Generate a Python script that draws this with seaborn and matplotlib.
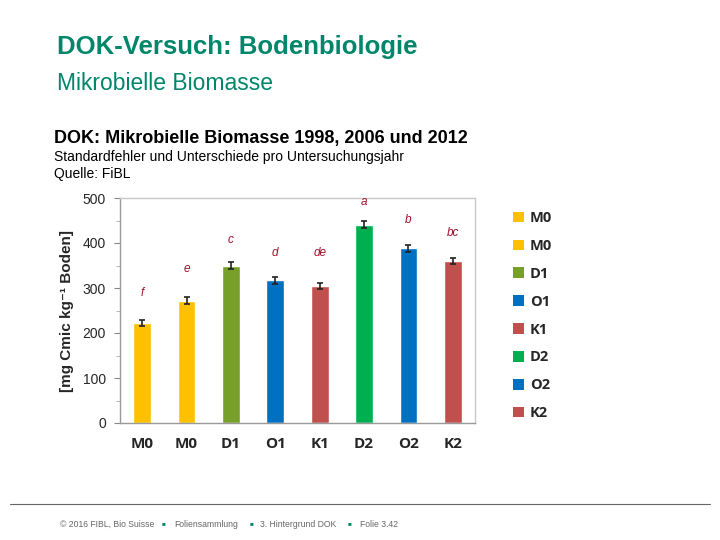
import numpy as np
import pandas as pd
import seaborn as sns
from matplotlib import pyplot as plt
from matplotlib.patches import Patch
from matplotlib.ticker import MultipleLocator
from matplotlib.lines import Line2D

# data
labels = ['M0', 'M0', 'D1', 'O1', 'K1', 'D2', 'O2', 'K2']
values = [222, 272, 350, 317, 305, 441, 388, 360]
errors = [7, 7, 7, 7, 7, 7, 7, 7]
letters = ['f', 'e', 'c', 'd', 'de', 'a', 'b', 'bc']
letter_y = [290, 342, 407, 378, 378, 492, 451, 423]
colors = ['#FFC000', '#FFC000', '#77A02A', '#0070C0', '#C0504D', '#00B050', '#0070C0', '#C0504D']

df = pd.DataFrame({'pos': [str(i) for i in range(len(labels))], 'value': values})

sns.set_style('white')
plt.rcParams['font.family'] = ['Liberation Sans', 'DejaVu Sans']

fig = plt.figure(figsize=(7.2, 5.4), dpi=100)
ax = fig.add_axes([120 / 720, 1 - 423 / 540, 355 / 720, 225 / 540])

sns.barplot(data=df, x='pos', y='value', hue='pos', palette=colors, legend=False,
            width=0.4, saturation=1, ax=ax)
ax.errorbar(np.arange(len(values)), values, yerr=errors, fmt='none', ecolor='#222222',
            elinewidth=1.2, capsize=2.5, capthick=1.2)

for i, (t, y) in enumerate(zip(letters, letter_y)):
    ax.text(i, y, t, ha='center', va='center', fontsize=8.5, style='italic', color='#A0102A')

ax.set_xlim(-0.5, len(labels) - 0.5)
ax.set_ylim(0, 500)
ax.set_xlabel('')
ax.set_ylabel('[mg Cmic kg\u207b\u00b9 Boden]', fontsize=11, fontweight='bold', labelpad=6)
ax.set_xticks(np.arange(len(labels)))
ax.set_xticklabels(labels, fontsize=11, fontweight='bold', family=['Open Sans', 'DejaVu Sans'])
ax.tick_params(axis='x', length=0, pad=10)
ax.set_xticks(np.arange(len(labels) + 1) - 0.5, minor=True)
ax.tick_params(axis='x', which='minor', length=4, color='#888888', direction='out')
ax.yaxis.set_major_locator(MultipleLocator(100))
ax.yaxis.set_minor_locator(MultipleLocator(50))
ax.tick_params(axis='y', which='major', length=4, color='#888888', labelsize=10, left=True,
               direction='out', pad=6)
ax.tick_params(axis='y', which='minor', length=3, color='#aaaaaa', left=True, direction='out')
for s in ['top', 'right']:
    ax.spines[s].set_color('#c8c8c8')
    ax.spines[s].set_linewidth(1)
for s in ['left', 'bottom']:
    ax.spines[s].set_color('#999999')
    ax.spines[s].set_linewidth(1)

handles = [Patch(facecolor=c, edgecolor='none', label=l) for c, l in zip(colors, labels)]
fig.legend(handles=handles, loc='upper left', bbox_to_anchor=(500 / 720, 1 - 198 / 540),
           frameon=False, handlelength=0.75, handleheight=0.75, handletextpad=0.4,
           labelspacing=0.95, prop={'weight': 'bold', 'size': 10.5, 'family': ['Open Sans', 'DejaVu Sans']})

# slide headings
fig.text(57 / 720, 1 - 47 / 540, 'DOK-Versuch: Bodenbiologie', fontsize=18.5, fontweight='bold',
         color='#00876B', va='center')
fig.text(57 / 720, 1 - 83 / 540, 'Mikrobielle Biomasse', fontsize=16.5, color='#00876B', va='center')
fig.text(54 / 720, 1 - 139 / 540, 'DOK: Mikrobielle Biomasse 1998, 2006 und 2012', fontsize=13,
         fontweight='bold', color='black', va='center')
fig.text(54 / 720, 1 - 157 / 540, 'Standardfehler und Unterschiede pro Untersuchungsjahr',
         fontsize=10, color='black', va='center')
fig.text(54 / 720, 1 - 174 / 540, 'Quelle: FiBL', fontsize=10, color='black', va='center')

# footer
fig.add_artist(Line2D([10 / 720, 710 / 720], [1 - 504 / 540] * 2, color='#666666', lw=0.8))
footer_parts = ['\u00a9 2016 FIBL, Bio Suisse', 'Foliensammlung', '3. Hintergrund DOK', 'Folie 3.42']
footer_x = [60, 174, 260, 360]
bullet_x = [164, 251, 350]
for t, x in zip(footer_parts, footer_x):
    fig.text(x / 720, 1 - 527 / 540, t, fontsize=6.2, color='#666666', va='baseline')
for x in bullet_x:
    fig.text(x / 720, 1 - 524 / 540, '\u25a0', fontsize=4.5, color='#00876B', va='center', ha='center')

fig.savefig('out.png', dpi=100)
